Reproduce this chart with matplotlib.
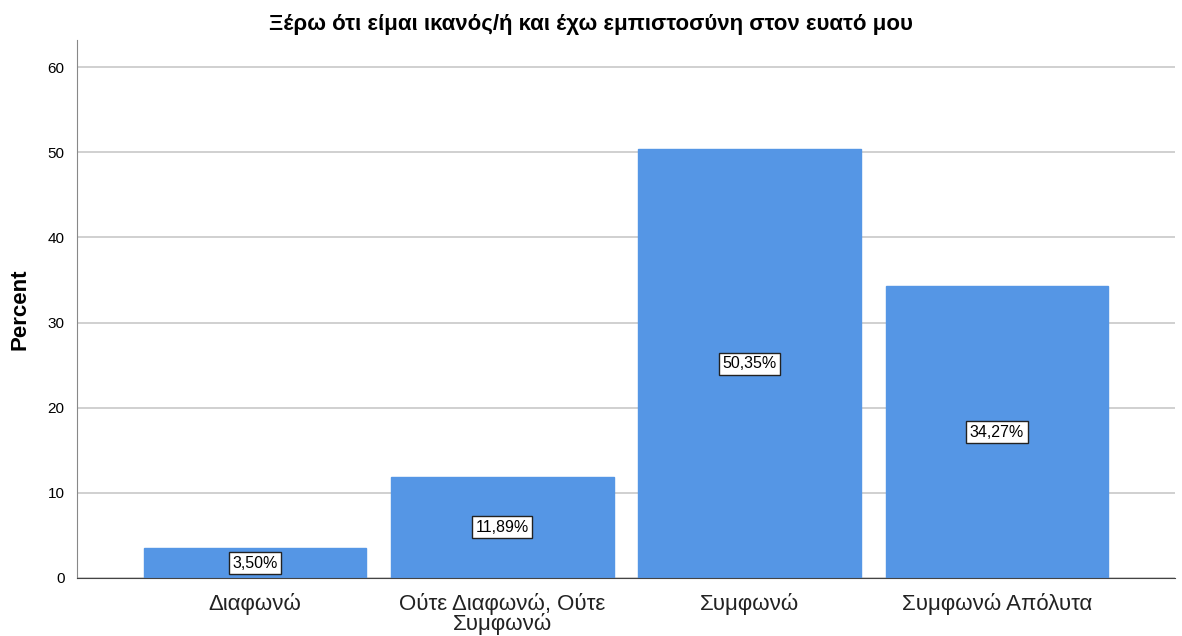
import matplotlib.pyplot as plt
import numpy as np

plt.rcParams['font.family'] = ['Liberation Sans', 'DejaVu Sans']

categories = ["Διαφωνώ", "Ούτε Διαφωνώ, Ούτε\nΣυμφωνώ", "Συμφωνώ", "Συμφωνώ Απόλυτα"]
percent = [3.50, 11.89, 50.35, 34.27]
yticks = [0, 10, 20, 30, 40, 50, 60]

fig = plt.figure(figsize=(11.82, 6.36), dpi=100)
ax = fig.add_axes([0.0651, 0.0912, 0.929, 0.846])

x = np.arange(len(categories))
ax.bar(x, percent, width=0.9, color='#5596e5', edgecolor='#5596e5', zorder=2)

for xi, v in zip(x, percent):
    ax.text(xi, v / 2, f"{v:.2f}%".replace('.', ','), ha='center', va='center',
            fontsize=11.5, zorder=3,
            bbox=dict(boxstyle='square,pad=0.22', facecolor='white', edgecolor='#222222', lw=1))

ax.set_xlim(-0.72, 3.72)
ax.set_ylim(0, 63.2)
ax.set_yticks(yticks)
ax.set_xticks(x)
ax.set_xticklabels(categories, fontsize=16, color='#222222', linespacing=0.85)
ax.tick_params(axis='y', length=0, labelsize=11, pad=9)
ax.tick_params(axis='x', length=0, pad=11)
ax.yaxis.grid(True, color='#c8c8c8', lw=1.2, zorder=0)
ax.set_axisbelow(True)

for s in ['top', 'right']:
    ax.spines[s].set_visible(False)
ax.spines['left'].set_color('#888888')
ax.spines['bottom'].set_color('#444444')

ax.set_ylabel('Percent', fontsize=16, fontweight='bold', labelpad=12)
# title is centred on the figure, not on the plot area
ax.set_title('Ξέρω ότι είμαι ικανός/ή και έχω εμπιστοσύνη στον ευατό μου',
             fontsize=16, fontweight='bold', pad=7, x=0.468)

fig.savefig('out.png', dpi=100)
